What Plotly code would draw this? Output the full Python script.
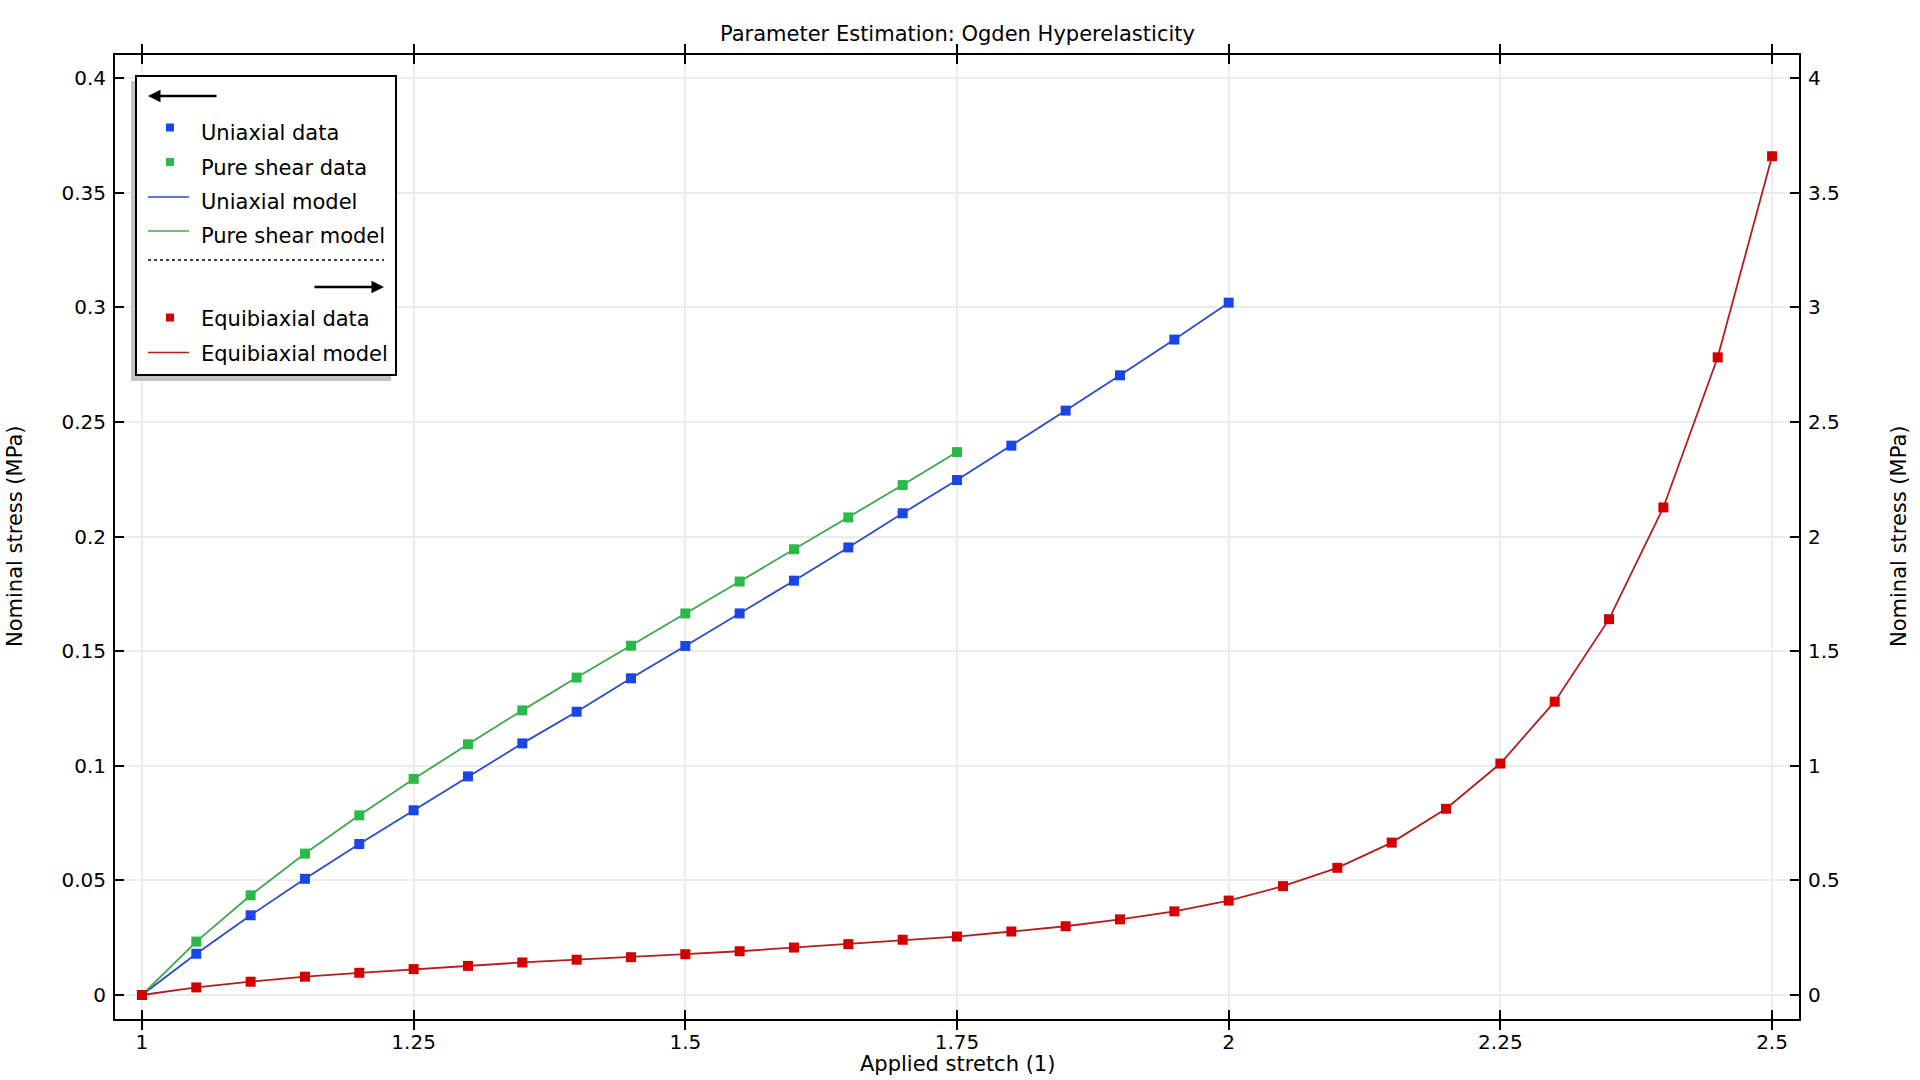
import plotly.graph_objects as go

# ---------------- data ----------------
stretch_uni = [1.0, 1.05, 1.1, 1.15, 1.2, 1.25, 1.3, 1.35, 1.4, 1.45, 1.5, 1.55, 1.6, 1.65, 1.7,
               1.75, 1.8, 1.85, 1.9, 1.95, 2.0]
stress_uni = [0.0, 0.0180, 0.0348, 0.0507, 0.0659, 0.0806, 0.0954, 0.1098, 0.1236, 0.1382, 0.1523,
              0.1665, 0.1808, 0.1953, 0.2102, 0.2247, 0.2397, 0.2550, 0.2704, 0.2860, 0.3021]

stretch_ps = [1.0, 1.05, 1.1, 1.15, 1.2, 1.25, 1.3, 1.35, 1.4, 1.45, 1.5, 1.55, 1.6, 1.65, 1.7, 1.75]
stress_ps = [0.0, 0.0233, 0.0435, 0.0617, 0.0784, 0.0943, 0.1094, 0.1242, 0.1385, 0.1524, 0.1665,
             0.1804, 0.1945, 0.2084, 0.2225, 0.2369]

stretch_eb = [1.0, 1.05, 1.1, 1.15, 1.2, 1.25, 1.3, 1.35, 1.4, 1.45, 1.5, 1.55, 1.6, 1.65, 1.7,
              1.75, 1.8, 1.85, 1.9, 1.95, 2.0, 2.05, 2.1, 2.15, 2.2, 2.25, 2.3, 2.35, 2.4, 2.45, 2.5]
stress_eb = [0.0, 0.033, 0.058, 0.080, 0.097, 0.113, 0.127, 0.142, 0.154, 0.165, 0.178, 0.191,
             0.207, 0.222, 0.241, 0.255, 0.277, 0.300, 0.330, 0.365, 0.412, 0.475, 0.555, 0.665,
             0.8125, 1.01, 1.28, 1.64, 2.1275, 2.7825, 3.66]

x_ticks = [1, 1.25, 1.5, 1.75, 2, 2.25, 2.5]
x_ticklabels = ["1", "1.25", "1.5", "1.75", "2", "2.25", "2.5"]
y_ticks = [0, 0.05, 0.1, 0.15, 0.2, 0.25, 0.3, 0.35, 0.4]
y_ticklabels = ["0", "0.05", "0.1", "0.15", "0.2", "0.25", "0.3", "0.35", "0.4"]
y2_ticks = [0, 0.5, 1, 1.5, 2, 2.5, 3, 3.5, 4]
y2_ticklabels = ["0", "0.5", "1", "1.5", "2", "2.5", "3", "3.5", "4"]

title_text = "Parameter Estimation: Ogden Hyperelasticity"
x_title = "Applied stretch (1)"
y_title = "Nominal stress (MPa)"
legend_labels = ["Uniaxial data", "Pure shear data", "Uniaxial model", "Pure shear model",
                 "Equibiaxial data", "Equibiaxial model"]

# ---------------- styles ----------------
FONT = "DejaVu Sans"
W, H = 1920, 1080
L, R, T, B = 115, 1799, 55, 1019   # plot area in screen pixels
BLUE_M, BLUE_L = "#1a46e8", "#2a4ccc"
GREEN_M, GREEN_L = "#2db84a", "#3da84e"
RED_M, RED_L = "#d40000", "#b21e1e"
GRID = "#ececec"

fig = go.Figure()

# model lines
fig.add_trace(go.Scatter(x=stretch_uni, y=stress_uni, mode="lines",
                         line=dict(color=BLUE_L, width=1.8), showlegend=False))
fig.add_trace(go.Scatter(x=stretch_ps, y=stress_ps, mode="lines",
                         line=dict(color=GREEN_L, width=1.8), showlegend=False))
fig.add_trace(go.Scatter(x=stretch_eb, y=stress_eb, mode="lines", yaxis="y2",
                         line=dict(color=RED_L, width=1.8), showlegend=False))
# data markers
fig.add_trace(go.Scatter(x=stretch_uni, y=stress_uni, mode="markers",
                         marker=dict(symbol="square", size=10, color=BLUE_M), showlegend=False))
fig.add_trace(go.Scatter(x=stretch_ps, y=stress_ps, mode="markers",
                         marker=dict(symbol="square", size=10, color=GREEN_M), showlegend=False))
fig.add_trace(go.Scatter(x=stretch_eb, y=stress_eb, mode="markers", yaxis="y2",
                         marker=dict(symbol="square", size=10, color=RED_M), showlegend=False))


def px(xp):
    return (xp - L) / (R - L)


def py(yp):
    return (B - yp) / (B - T)


axis_font = dict(family=FONT, size=20, color="black")

fig.update_layout(
    width=W, height=H, autosize=False,
    margin=dict(l=L, r=W - R, t=T, b=H - B, pad=0),
    plot_bgcolor="white", paper_bgcolor="white",
    font=dict(family=FONT, size=20, color="black"),
    xaxis=dict(range=[0.9752, 2.5248], tickvals=x_ticks, ticktext=x_ticklabels,
               ticks="inside", ticklen=9, tickwidth=2, tickcolor="black",
               showline=True, linewidth=2, linecolor="black", mirror="allticks",
               showgrid=True, gridcolor=GRID, gridwidth=2, zeroline=False,
               tickfont=axis_font, ticklabelstandoff=4),
    yaxis=dict(range=[-0.01047, 0.41017], tickvals=y_ticks, ticktext=y_ticklabels,
               ticks="inside", ticklen=9, tickwidth=2, tickcolor="black",
               showline=True, linewidth=2, linecolor="black", mirror=True,
               showgrid=True, gridcolor=GRID, gridwidth=2, zeroline=False,
               tickfont=axis_font, ticklabelstandoff=3),
    yaxis2=dict(range=[-0.1047, 4.1017], tickvals=y2_ticks, ticktext=y2_ticklabels,
                overlaying="y", side="right",
                ticks="inside", ticklen=9, tickwidth=2, tickcolor="black",
                showline=True, linewidth=2, linecolor="black",
                showgrid=False, zeroline=False, tickfont=axis_font, ticklabelstandoff=3),
    showlegend=False,
    hovermode=False,
)

annotations = [
    dict(text=title_text, xref="paper", yref="paper", x=0.5, y=py(34),
         xanchor="center", yanchor="middle", showarrow=False, font=dict(family=FONT, size=21)),
    dict(text=x_title, xref="paper", yref="paper", x=px(957), y=py(1064),
         xanchor="center", yanchor="middle", showarrow=False, font=dict(family=FONT, size=21)),
    dict(text=y_title, xref="paper", yref="paper", x=px(15), y=py(537), textangle=-90,
         xanchor="center", yanchor="middle", showarrow=False, font=dict(family=FONT, size=21)),
    dict(text=y_title, xref="paper", yref="paper", x=px(1899), y=py(537), textangle=-90,
         xanchor="center", yanchor="middle", showarrow=False, font=dict(family=FONT, size=21)),
]

shapes = []
# legend shadow + box
shapes.append(dict(type="rect", xref="paper", yref="paper", x0=px(131), x1=px(391),
                   y0=py(81), y1=py(381), fillcolor="#c4c4c4", line=dict(width=0), layer="above"))
shapes.append(dict(type="rect", xref="paper", yref="paper", x0=px(136), x1=px(396),
                   y0=py(76), y1=py(375), fillcolor="white",
                   line=dict(color="black", width=2), layer="above"))

# legend arrows
annotations.append(dict(xref="paper", yref="paper", x=px(148), y=py(96), ax=70, ay=0,
                        text="", showarrow=True, arrowhead=2, arrowsize=1, arrowwidth=2.5,
                        arrowcolor="black"))
annotations.append(dict(xref="paper", yref="paper", x=px(384), y=py(287), ax=-71, ay=0,
                        text="", showarrow=True, arrowhead=2, arrowsize=1, arrowwidth=2.5,
                        arrowcolor="black"))
# dotted separator
shapes.append(dict(type="line", xref="paper", yref="paper", x0=px(148), x1=px(384),
                   y0=py(260), y1=py(260), line=dict(color="black", width=1.5, dash="dot"),
                   layer="above"))

# (sample y, text y, kind, colour)
rows = [(127.5, 133, "marker", BLUE_M), (162, 167.5, "marker", GREEN_M),
        (197, 201.5, "line", BLUE_L), (231, 236, "line", GREEN_L),
        (317.5, 319, "marker", RED_M), (352.5, 353.5, "line", RED_L)]
for (yy, ty, kind, col), lab in zip(rows, legend_labels):
    if kind == "marker":
        shapes.append(dict(type="rect", xref="paper", yref="paper", x0=px(166), x1=px(174),
                           y0=py(yy - 4), y1=py(yy + 4), fillcolor=col, line=dict(width=0),
                           layer="above"))
    else:
        shapes.append(dict(type="line", xref="paper", yref="paper", x0=px(148), x1=px(189),
                           y0=py(yy), y1=py(yy), line=dict(color=col, width=1.6), layer="above"))
    annotations.append(dict(text=lab, xref="paper", yref="paper", x=px(199), y=py(ty),
                            xanchor="left", yanchor="middle", showarrow=False,
                            font=dict(family=FONT, size=21, color="black")))

fig.update_layout(shapes=shapes, annotations=annotations)
fig.write_html("out.html", config={"displayModeBar": False, "staticPlot": True},
               post_script="document.body.style.margin='0';document.body.style.overflow='hidden';")
